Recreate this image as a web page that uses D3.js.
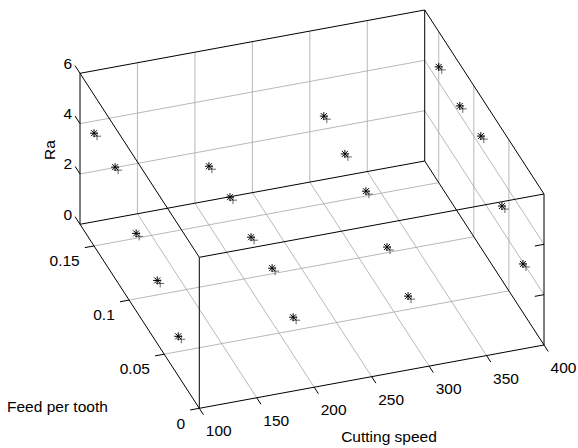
<!DOCTYPE html>
<html>
<head>
<meta charset="utf-8">
<script src="https://cdn.jsdelivr.net/npm/d3@7"></script>
<style>
  html, body { margin: 0; padding: 0; background: #fff; }
  svg { display: block; }
  text { font-family: "Liberation Sans", Arial, Helvetica, sans-serif; font-size: 15.5px; fill: #000; }
</style>
</head>
<body>
<svg id="chart" width="578" height="448"></svg>
<script>
// Measured surface roughness Ra for each cutting speed / feed per tooth combination
const speeds = [100, 200, 300, 400];
const feeds = [0.03, 0.06, 0.09, 0.12, 0.15];
const raAt100 = [1.57, 2.50, 3.08, 4.42, 4.48];
const raAt200 = [1.49, 2.15, 2.09, 2.39, 2.33];
const raAt300 = [1.49, 2.15, 3.08, 3.27, 3.48];
const raAt400 = [1.93, 2.94, 4.43, 4.34, 4.60];

// Axis ticks
const speedTicks = [100, 150, 200, 250, 300, 350, 400];
const feedTicks = [0, 0.05, 0.1, 0.15];
const feedTickLabels = ["0", "0.05", "0.1", "0.15"];
const raTicks = [0, 2, 4, 6];

const xDomain = [100, 400], yDomain = [0, 0.17], zDomain = [0, 6];

const raRows = [raAt100, raAt200, raAt300, raAt400];
const points = [];
speeds.forEach((s, i) => feeds.forEach((f, j) => points.push({ speed: s, feed: f, ra: raRows[i][j] })));

// Orthographic 3-D view: each axis is a unit scale combined with its screen basis vector
const sx = d3.scaleLinear().domain(xDomain).range([0, 1]);
const sy = d3.scaleLinear().domain(yDomain).range([0, 1]);
const sz = d3.scaleLinear().domain(zDomain).range([0, 1]);
const origin = [199.3, 408.3];
const EX = [344.7, -63.3], EY = [-119.3, -184], EZ = [0, -151];
function proj(x, y, z) {
  const u = sx(x), v = sy(y), w = sz(z);
  return [origin[0] + u * EX[0] + v * EY[0] + w * EZ[0],
          origin[1] + u * EX[1] + v * EY[1] + w * EZ[1]];
}

const svg = d3.select("#chart");
const line = d3.line();
const [x0, x1] = xDomain, [y0, y1] = yDomain, [z0, z1] = zDomain;

function seg(g, a, b, stroke, width) {
  g.append("path").attr("d", line([proj(...a), proj(...b)]))
    .attr("fill", "none").attr("stroke", stroke).attr("stroke-width", width);
}

// Grid lines on the floor and on the two back walls
const grid = svg.append("g");
const gridColor = "#a6a6a6", gridW = 0.8;
speedTicks.slice(1, -1).forEach(x => {
  seg(grid, [x, y0, z0], [x, y1, z0], gridColor, gridW);
  seg(grid, [x, y1, z0], [x, y1, z1], gridColor, gridW);
});
feedTicks.slice(1).forEach(y => {
  seg(grid, [x0, y, z0], [x1, y, z0], gridColor, gridW);
  seg(grid, [x1, y, z0], [x1, y, z1], gridColor, gridW);
});
raTicks.slice(1, -1).forEach(z => {
  seg(grid, [x0, y1, z], [x1, y1, z], gridColor, gridW);
  seg(grid, [x1, y0, z], [x1, y1, z], gridColor, gridW);
});

// Box edges
const box = svg.append("g");
const edges = [
  [[x0, y0, z0], [x1, y0, z0]], [[x0, y1, z0], [x1, y1, z0]],
  [[x0, y0, z1], [x1, y0, z1]], [[x0, y1, z1], [x1, y1, z1]],
  [[x0, y0, z0], [x0, y1, z0]], [[x1, y0, z0], [x1, y1, z0]],
  [[x0, y0, z1], [x0, y1, z1]], [[x1, y0, z1], [x1, y1, z1]],
  [[x0, y0, z0], [x0, y0, z1]], [[x0, y1, z0], [x0, y1, z1]],
  [[x1, y0, z0], [x1, y0, z1]], [[x1, y1, z0], [x1, y1, z1]]
];
edges.forEach(([a, b]) => seg(box, a, b, "#000", 1));

// Tick marks
const ticks = svg.append("g");
speedTicks.forEach(x => seg(ticks, [x, y0, z0], [x, y0 - 0.006, z0], "#000", 1));
feedTicks.forEach(y => seg(ticks, [x0, y, z0], [x0 - 8, y, z0], "#000", 1));
raTicks.forEach(z => seg(ticks, [x0, y1, z], [x0, y1 + 0.007, z], "#000", 1));
raTicks.slice(1, -1).forEach(z => seg(ticks, [x1, y0, z], [x1 - 8, y0, z], "#000", 1));

// Tick labels
const labels = svg.append("g");
speedTicks.forEach(x => {
  const p = proj(x, y0, z0);
  labels.append("text").attr("x", p[0] + 19.5).attr("y", p[1] + 22.5)
    .attr("text-anchor", "middle").attr("dominant-baseline", "central").text(x);
});
feedTicks.forEach((y, i) => {
  const p = proj(x0, y, z0);
  labels.append("text").attr("x", p[0] - 14.3).attr("y", p[1] + 14.8)
    .attr("text-anchor", "end").attr("dominant-baseline", "central").text(feedTickLabels[i]);
});
raTicks.forEach(z => {
  const p = proj(x0, y1, z);
  labels.append("text").attr("x", p[0] - 8).attr("y", p[1] - 10)
    .attr("text-anchor", "end").attr("dominant-baseline", "central").text(z);
});

// Axis titles
labels.append("text").attr("transform", "translate(49,150) rotate(-90)")
  .attr("text-anchor", "middle").attr("dominant-baseline", "central").text("Ra");
labels.append("text").attr("x", 7).attr("y", 412).text("Feed per tooth");
labels.append("text").attr("x", 389).attr("y", 441.5).attr("text-anchor", "middle").text("Cutting speed");

// Data markers: asterisk with a small plus beside it
const star = "M-4,0L4,0M0,-4L0,4M-3,-3L3,3M-3,3L3,-3";
const plus = "M-1,3L7,3M3,-1L3,7";
const marks = svg.append("g");
points.forEach(d => {
  const p = proj(d.speed, d.feed, d.ra);
  const g = marks.append("g").attr("transform", `translate(${p[0]},${p[1]})`);
  g.append("path").attr("d", plus).attr("stroke", "#555").attr("stroke-width", 0.9).attr("fill", "none");
  g.append("path").attr("d", star).attr("stroke", "#000").attr("stroke-width", 1).attr("fill", "none");
});
</script>
</body>
</html>
